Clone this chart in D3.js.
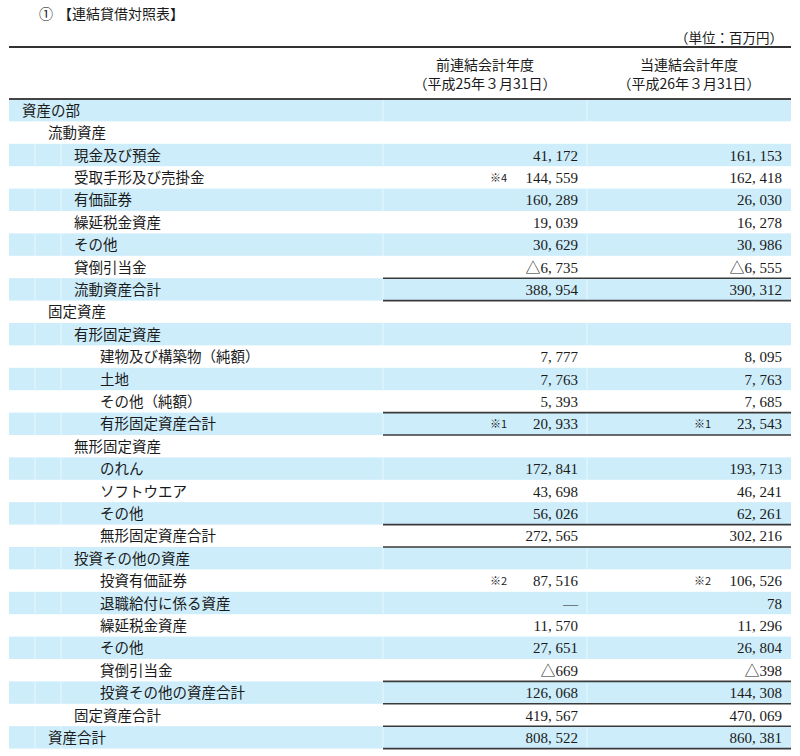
<!DOCTYPE html>
<html lang="ja">
<head>
<meta charset="utf-8">
<script src="https://cdn.jsdelivr.net/npm/d3@7"></script>
<style>
  html, body { margin: 0; padding: 0; background: #fff; }
  svg { display: block; }
  .jp { font-family: "Noto Sans CJK JP", sans-serif; fill: #1a1a1a; }
  .num { font-family: "Liberation Serif", "Noto Sans CJK JP", serif; fill: #1a1a1a; }
</style>
</head>
<body>
<svg id="chart" width="800" height="756"></svg>
<script>
// 科目名
const labels = [
  '資産の部', '流動資産', '現金及び預金', '受取手形及び売掛金', '有価証券', '繰延税金資産', 'その他', '貸倒引当金', '流動資産合計',
  '固定資産', '有形固定資産', '建物及び構築物（純額）', '土地', 'その他（純額）', '有形固定資産合計',
  '無形固定資産', 'のれん', 'ソフトウエア', 'その他', '無形固定資産合計',
  '投資その他の資産', '投資有価証券', '退職給付に係る資産', '繰延税金資産', 'その他', '貸倒引当金', '投資その他の資産合計',
  '固定資産合計', '資産合計'
];
// 階層（字下げ）
const levels = [0, 1, 2, 2, 2, 2, 2, 2, 2, 1, 2, 3, 3, 3, 3, 2, 3, 3, 3, 3, 2, 3, 3, 3, 3, 3, 3, 2, 1];
// 合計行
const totalRows = [8, 14, 19, 26, 27, 28];

// 期間
const periods = ['前連結会計年度', '当連結会計年度'];
const periodDates = ['（平成25年３月31日）', '（平成26年３月31日）'];

// 金額（百万円）, null = 空欄, 'dash' = ―
const prevValues = [
  null, null, 41172, 144559, 160289, 19039, 30629, -6735, 388954,
  null, null, 7777, 7763, 5393, 20933,
  null, 172841, 43698, 56026, 272565,
  null, 87516, 'dash', 11570, 27651, -669, 126068,
  419567, 808522
];
const currValues = [
  null, null, 161153, 162418, 26030, 16278, 30986, -6555, 390312,
  null, null, 8095, 7763, 7685, 23543,
  null, 193713, 46241, 62261, 302216,
  null, 106526, 78, 11296, 26804, -398, 144308,
  470069, 860381
];
// 注記
const prevNotes = { 3: '※4', 14: '※1', 21: '※2' };
const currNotes = { 14: '※1', 21: '※2' };

const svg = d3.select('#chart');
const left = 9, right = 791, labelEnd = 383;
const rowTop = 99, rowH = 22.4;

const y = d3.scaleBand()
  .domain(d3.range(labels.length))
  .range([rowTop, rowTop + rowH * labels.length])
  .padding(0);
const x = d3.scaleBand()
  .domain(d3.range(periods.length))
  .range([labelEnd, right])
  .padding(0);

// タイトル
svg.append('text').attr('class', 'jp').attr('x', 39).attr('y', 19)
  .attr('font-size', 14).text('①');
svg.append('text').attr('class', 'jp').attr('x', 58).attr('y', 19)
  .attr('font-size', 14).text('【連結貸借対照表】');
svg.append('text').attr('class', 'jp').attr('x', 783).attr('y', 43)
  .attr('font-size', 13.5).attr('text-anchor', 'end').text('（単位：百万円）');

// 行の背景
svg.append('g').selectAll('rect')
  .data(labels.map((d, i) => i).filter(i => i % 2 === 0))
  .join('rect')
  .attr('x', left).attr('width', right - left)
  .attr('y', i => y(i)).attr('height', y.bandwidth())
  .attr('fill', '#cdedfb');

// 背景内の薄い縦線
const faintX = [35, 61, labelEnd, x(1)];
const gFaint = svg.append('g');
labels.forEach((d, i) => {
  if (i % 2 !== 0) return;
  faintX.forEach(fx => {
    gFaint.append('line')
      .attr('x1', fx).attr('x2', fx)
      .attr('y1', y(i)).attr('y2', y(i) + y.bandwidth())
      .attr('stroke', '#fff').attr('stroke-opacity', 0.55).attr('stroke-width', 1);
  });
});

// ヘッダー
const hdr = svg.append('g');
periods.forEach((p, i) => {
  const cx = x(i) + x.bandwidth() / 2;
  hdr.append('text').attr('class', 'jp').attr('x', cx).attr('y', 70)
    .attr('font-size', 14).attr('text-anchor', 'middle').text(p);
  hdr.append('text').attr('class', 'jp').attr('x', cx).attr('y', 89)
    .attr('font-size', 14).attr('text-anchor', 'middle').text(periodDates[i]);
});

// 罫線
svg.append('line').attr('x1', left).attr('x2', right).attr('y1', 47).attr('y2', 47)
  .attr('stroke', '#333').attr('stroke-width', 2);
svg.append('line').attr('x1', left).attr('x2', right).attr('y1', rowTop).attr('y2', rowTop)
  .attr('stroke', '#444').attr('stroke-width', 2);

const rules = new Set();
totalRows.forEach(i => { rules.add(y(i)); rules.add(y(i) + y.bandwidth()); });
svg.append('g').selectAll('line')
  .data([...rules])
  .join('line')
  .attr('x1', labelEnd).attr('x2', right)
  .attr('y1', d => d).attr('y2', d => d)
  .attr('stroke', '#3a3a3a').attr('stroke-width', 1.6);

// 科目名
svg.append('g').selectAll('text')
  .data(labels)
  .join('text')
  .attr('class', 'jp')
  .attr('font-size', 14.5)
  .attr('x', (d, i) => 22 + levels[i] * 26)
  .attr('y', (d, i) => y(i) + y.bandwidth() / 2 + 5.5)
  .text(d => d);

// 金額
const fmt = d3.format(',');
function fmtValue(v) {
  if (v === null) return '';
  if (v === 'dash') return '―';
  const s = fmt(Math.abs(v)).replace(/,/g, ', ');
  return v < 0 ? '△' + s : s;
}

[prevValues, currValues].forEach((vals, c) => {
  const g = svg.append('g');
  const xr = x(c) + x.bandwidth() - 9;
  g.selectAll('text.num')
    .data(vals)
    .join('text')
    .attr('class', 'num')
    .attr('font-size', 15)
    .attr('text-anchor', 'end')
    .attr('x', xr)
    .attr('y', (d, i) => y(i) + y.bandwidth() / 2 + 5.5)
    .text(d => fmtValue(d));

  const notes = c === 0 ? prevNotes : currNotes;
  Object.keys(notes).forEach(k => {
    g.append('text')
      .attr('class', 'jp')
      .attr('font-size', 11)
      .attr('x', xr - 88)
      .attr('y', y(+k) + y.bandwidth() / 2 + 4.5)
      .attr('fill', '#444')
      .text(notes[k]);
  });
});
</script>
</body>
</html>
